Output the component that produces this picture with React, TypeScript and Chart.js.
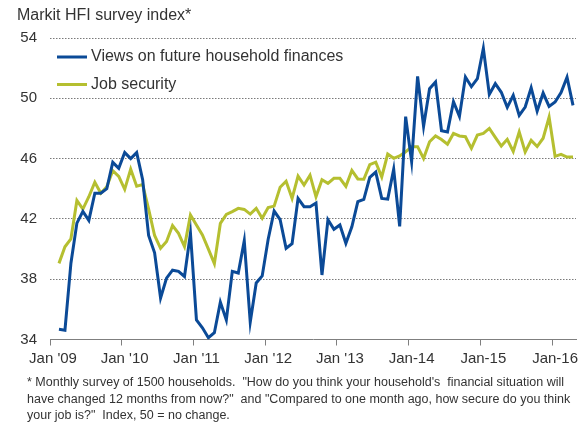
import React, { useEffect, useRef } from "react";
import { Chart, registerables } from "chart.js";

Chart.register(...registerables);

// Categories: monthly, Jan 2009 .. Apr 2016 (88 months)
const monthNames = ["Jan", "Feb", "Mar", "Apr", "May", "Jun", "Jul", "Aug", "Sep", "Oct", "Nov", "Dec"];
const categories: string[] = [];
for (let y = 2009; y <= 2016; y++) {
  for (let m = 0; m < 12; m++) {
    if (y === 2016 && m > 3) break;
    categories.push(`${monthNames[m]} ${y}`);
  }
}

// Tick labels shown at each January
const yearTickLabels = ["Jan '09", "Jan '10", "Jan '11", "Jan '12", "Jan '13", "Jan-14", "Jan-15", "Jan-16"];

const seriesNames = ["Views on future household finances", "Job security"];

// Views on future household finances (Feb 2009 onward; Jan 2009 has no data)
const householdFinances: (number | null)[] = [
  null,
  34.68, 34.62, 39.06, 41.72, 42.5, 41.9, 43.7, 43.7, 44.0, 45.75, 45.35,
  46.4, 46.0, 46.4, 44.6, 40.9, 39.75, 36.75, 38.07, 38.6, 38.52, 38.18, 41.05,
  35.3, 34.78, 34.12, 34.45, 36.48, 35.3, 38.52, 38.41, 40.55, 35.15, 37.75, 38.22,
  40.65, 42.52, 41.95, 40.05, 40.35, 43.36, 42.81, 42.81, 43.05, 38.28, 41.95, 41.31,
  41.6, 40.38, 41.48, 43.14, 43.3, 44.75, 45.1, 43.36, 43.31, 45.3, 41.5, 48.78,
  45.8, 51.45, 48.14, 50.64, 51.08, 47.85, 47.76, 49.78, 48.8, 51.41, 50.77, 51.3,
  53.32, 50.26, 50.97, 50.4, 49.4, 50.2, 48.87, 49.42, 50.7, 49.15, 50.35, 49.46,
  49.75, 50.38, 51.4, 49.53,
];

// Job security
const jobSecurity: (number | null)[] = [
  null,
  39.05, 40.15, 40.68, 43.22, 42.65, 43.47, 44.43, 43.7, 44.13, 45.2, 44.82,
  43.96, 45.3, 44.17, 44.28, 42.65, 40.9, 40.05, 40.5, 41.56, 41.04, 40.16, 42.26,
  41.6, 40.93, 40.0, 39.03, 41.7, 42.3, 42.48, 42.7, 42.63, 42.32, 42.7, 42.04,
  42.75, 42.85, 44.1, 44.5, 43.36, 44.84, 44.25, 44.9, 43.47, 44.6, 44.36, 44.69,
  44.69, 44.16, 45.22, 44.65, 44.63, 45.6, 45.76, 44.78, 46.3, 46.02, 46.18, 46.45,
  46.78, 46.79, 46.01, 47.12, 47.5, 47.27, 46.96, 47.67, 47.5, 47.45, 46.68, 47.56,
  47.67, 48.0, 47.41, 46.83, 47.28, 46.47, 47.77, 46.44, 47.21, 46.8, 47.35, 48.76,
  46.15, 46.28, 46.1, 46.1,
];

const BLUE = "#0B4A97";
const GREEN = "#B5BF30";
const TEXT = "#333333";
const FONT = '"Liberation Sans", Arial, sans-serif';

const insideLegend = {
  id: "insideLegend",
  afterDatasetsDraw(chart: any) {
    const { ctx, chartArea } = chart;
    chart.data.datasets.forEach((ds: any, k: number) => {
      const y = chartArea.top + 19 + k * 27.5;
      ctx.save();
      ctx.strokeStyle = ds.borderColor;
      ctx.lineWidth = 3;
      ctx.beginPath();
      ctx.moveTo(chartArea.left + 7, y);
      ctx.lineTo(chartArea.left + 37, y);
      ctx.stroke();
      ctx.fillStyle = TEXT;
      ctx.font = `16px ${FONT}`;
      ctx.textBaseline = "middle";
      ctx.textAlign = "left";
      ctx.fillText(ds.label, chartArea.left + 41, y);
      ctx.restore();
    });
  },
};

export default function App() {
  const ref = useRef<HTMLCanvasElement | null>(null);

  useEffect(() => {
    if (!ref.current) return;
    const chart = new Chart(ref.current, {
      type: "line",
      data: {
        labels: categories,
        datasets: [
          {
            label: seriesNames[0],
            data: householdFinances,
            borderColor: BLUE,
            backgroundColor: BLUE,
            borderWidth: 3,
            pointRadius: 0,
            tension: 0,
          },
          {
            label: seriesNames[1],
            data: jobSecurity,
            borderColor: GREEN,
            backgroundColor: GREEN,
            borderWidth: 3,
            pointRadius: 0,
            tension: 0,
          },
        ],
      },
      options: {
        responsive: false,
        animation: false,
        devicePixelRatio: 1,
        layout: { padding: { top: 38, right: 12, left: 0, bottom: 0 } },
        plugins: {
          legend: { display: false },
          tooltip: { enabled: false },
          title: { display: false },
        },
        scales: {
          x: {
            type: "category",
            offset: true,
            grid: {
              offset: true,
              drawOnChartArea: false,
              drawTicks: true,
              tickLength: 6,
              tickWidth: 1,
              tickColor: (ctx: any) => (ctx.index % 12 === 0 ? "#7F7F7F" : "rgba(0,0,0,0)"),
            },
            border: { display: true, color: "#7F7F7F", width: 1 },
            ticks: {
              autoSkip: false,
              maxRotation: 0,
              minRotation: 0,
              padding: 4,
              color: TEXT,
              font: { family: FONT, size: 15 },
              callback: (_v: any, i: number) => (i % 12 === 0 ? yearTickLabels[i / 12] : ""),
            },
            afterFit: (scale: any) => {
              scale.height = 83.5;
            },
          },
          y: {
            min: 34,
            max: 54,
            ticks: {
              stepSize: 4,
              padding: 13,
              color: TEXT,
              font: { family: FONT, size: 15 },
            },
            grid: {
              drawTicks: false,
              color: "#7A7A7A",
              lineWidth: 1,
            },
            border: { display: false, dash: [1.5, 1.5] },
            afterFit: (scale: any) => {
              scale.width = 50;
            },
          },
        },
      },
      plugins: [insideLegend],
    } as any);
    return () => chart.destroy();
  }, []);

  return (
    <div style={{ position: "relative", width: 588, height: 423, fontFamily: FONT, color: TEXT }}>
      <style>{`body{margin:0}`}</style>
      <canvas ref={ref} width={588} height={423} style={{ position: "absolute", left: 0, top: 0 }} />
      <div style={{ position: "absolute", left: 17, top: 6, fontSize: 16, lineHeight: "18px", whiteSpace: "nowrap" }}>
        Markit HFI survey index*
      </div>
      <div
        style={{
          position: "absolute",
          left: 27,
          top: 374,
          fontSize: 12.5,
          lineHeight: "16.5px",
          whiteSpace: "pre",
        }}
      >
        {`* Monthly survey of 1500 households.  "How do you think your household's  financial situation will\nhave changed 12 months from now?"  and "Compared to one month ago, how secure do you think\nyour job is?"  Index, 50 = no change.`}
      </div>
    </div>
  );
}
